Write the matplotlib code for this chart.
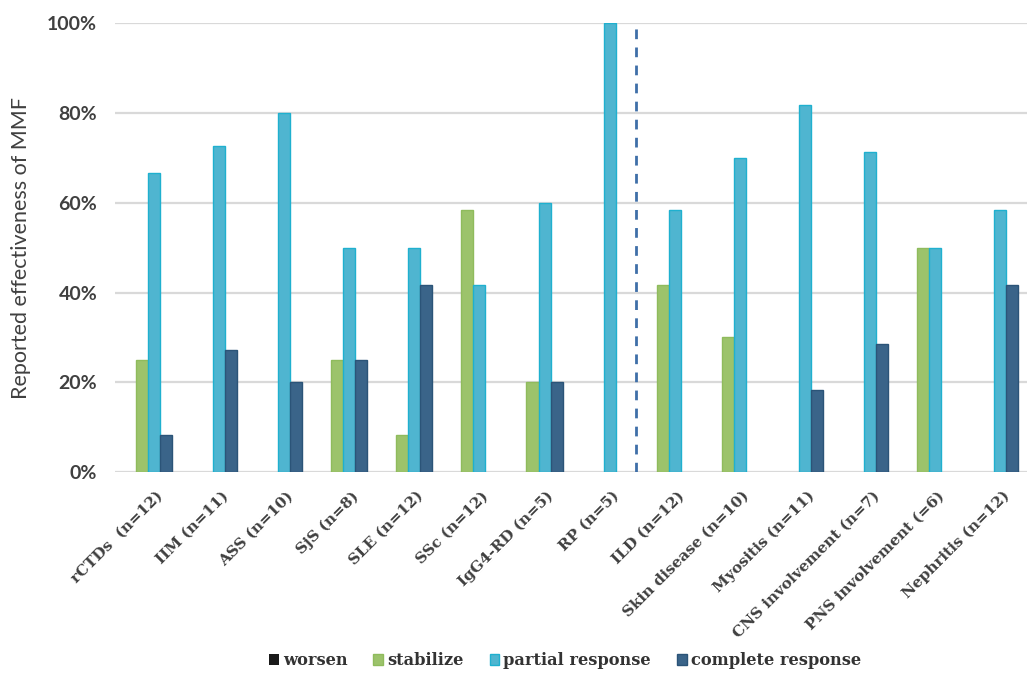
import matplotlib.pyplot as plt
import matplotlib.transforms as mtransforms
import numpy as np
from matplotlib.ticker import FuncFormatter

categories = [
    "rCTDs  (n=12)", "IIM (n=11)", "ASS (n=10)", "SjS (n=8)", "SLE (n=12)",
    "SSc (n=12)", "IgG4-RD (n=5)", "RP (n=5)", "ILD (n=12)",
    "Skin disease (n=10)", "Myositis (n=11)", "CNS involvement (n=7)",
    "PNS involvement (=6)", "Nephritis (n=12)",
]
worsen = [0, 0, 0, 0, 0, 0, 0, 0, 0, 0, 0, 0, 0, 0]
stabilize = [25.0, 0, 0, 25.0, 8.3, 58.3, 20.0, 0, 41.7, 30.0, 0, 0, 50.0, 0]
partial = [66.7, 72.7, 80.0, 50.0, 50.0, 41.7, 60.0, 100.0, 58.3, 70.0, 81.8, 71.4, 50.0, 58.3]
complete = [8.3, 27.3, 20.0, 25.0, 41.7, 0, 20.0, 0, 0, 0, 18.2, 28.6, 0, 41.7]

series = [
    ("worsen", worsen, "#1a1a1a", "#1a1a1a"),
    ("stabilize", stabilize, "#9cc36b", "#8fbb5c"),
    ("partial response", partial, "#4fb5d0", "#1fb0cf"),
    ("complete response", complete, "#3a6489", "#2b5478"),
]

fig = plt.figure(figsize=(10.29, 6.75), dpi=100)
ax = fig.add_axes([0.112, 0.3007, 0.886, 0.6648])

x = np.arange(len(categories))
w = 0.185
for i, (name, vals, fc, ec) in enumerate(series):
    lw = [1.0 if v > 0 else 0.0 for v in vals]
    ax.bar(x + (i - 1.5) * w, vals, width=w, color=fc, edgecolor=ec,
           linewidth=lw, label=name, zorder=3)

ax.set_xlim(-0.5, len(categories) - 0.5)
ax.set_ylim(0, 100)
ax.set_yticks([0, 20, 40, 60, 80, 100])
ax.yaxis.set_major_formatter(FuncFormatter(lambda v, p: f"{v:.0f}%"))
ax.grid(axis="y", color="#d9d9d9", linewidth=1.6, zorder=0)
ax.set_axisbelow(True)
for s in ax.spines.values():
    s.set_visible(False)
ax.tick_params(axis="both", length=0)
ax.tick_params(axis="y", pad=13)

for lab in ax.get_yticklabels():
    lab.set_fontfamily("Lato")
    lab.set_fontweight("bold")
    lab.set_fontsize(14)
    lab.set_color("#404040")

ax.set_ylabel("Reported effectiveness of MMF", fontfamily="Lato",
              fontsize=15.5, color="#404040", labelpad=12)

ax.set_xticks(x)
ax.set_xticklabels(categories, rotation=45, ha="right", rotation_mode="anchor",
                   fontfamily="DejaVu Serif", fontweight="bold",
                   fontsize=11, color="#404040")
ax.tick_params(axis="x", pad=12)
shift = mtransforms.ScaledTranslation(8 / 100, 0, fig.dpi_scale_trans)
for lab in ax.get_xticklabels():
    lab.set_transform(lab.get_transform() + shift)

ax.axvline(7.5, color="#3f6fa8", linestyle=(0, (3.5, 3)), linewidth=2, zorder=4)

handles, labels = ax.get_legend_handles_labels()
leg = fig.legend(handles, labels, loc="center", bbox_to_anchor=(0.549, 0.021),
                 ncol=4, frameon=False, handlelength=0.6, handleheight=0.6,
                 handletextpad=0.25, columnspacing=1.6,
                 prop={"family": "DejaVu Serif", "weight": "bold", "size": 11.7})
for t in leg.get_texts():
    t.set_color("#333333")

fig.savefig("out.png", dpi=100)
